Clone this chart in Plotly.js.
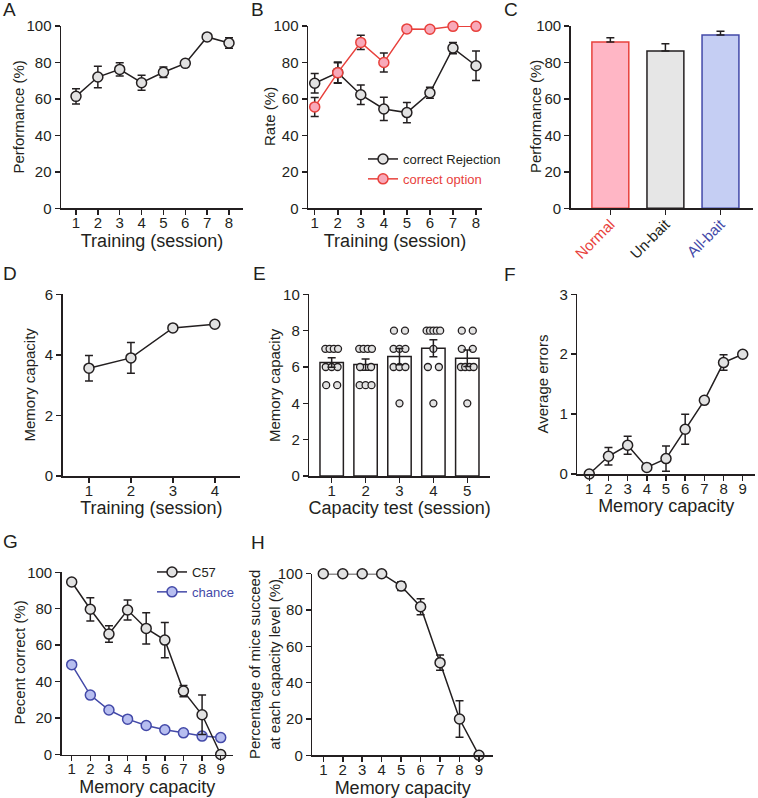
<!DOCTYPE html>
<html><head><meta charset="utf-8">
<script src="https://cdn.plot.ly/plotly-3.0.1.min.js"></script>
<style>html,body{margin:0;padding:0;background:#fff}#chart{width:758px;height:798px}</style>
</head><body><div id="chart"></div>
<script>
// ---------------- DATA ----------------
// A
const sessionsA = [1, 2, 3, 4, 5, 6, 7, 8];
const performanceA = [61.4, 72.0, 76.2, 68.9, 74.6, 79.5, 94.0, 90.7];
const performanceA_sem = [4.2, 5.9, 3.6, 4.1, 2.9, 0.8, 0.8, 2.9];
// B
const sessionsB = [1, 2, 3, 4, 5, 6, 7, 8];
const rejectionB = [68.6, 74.4, 62.3, 54.5, 52.5, 63.4, 87.9, 78.2];
const rejectionB_sem = [5.3, 5.8, 5.4, 6.4, 5.6, 3.0, 3.1, 8.1];
const optionB = [55.6, 74.4, 91.0, 80.0, 98.4, 98.2, 99.8, 99.8];
const optionB_sem = [5.2, 5.5, 3.9, 5.2, 0, 0, 0, 0];
// C
const conditionsC = ['Normal', 'Un-bait', 'All-bait'];
const performanceC = [91.2, 86.3, 95.1];
const performanceC_sem = [2.4, 4.0, 2.0];
// D
const sessionsD = [1, 2, 3, 4];
const capacityD = [3.56, 3.90, 4.89, 5.01];
const capacityD_sem = [0.42, 0.51, 0.03, 0.02];
// E
const sessionsE = [1, 2, 3, 4, 5];
const capacityE_mean = [6.25, 6.13, 6.57, 7.03, 6.48];
const capacityE_sem = [0.26, 0.31, 0.45, 0.47, 0.45];
const capacityE_s1 = [7, 7, 7, 7, 6, 6, 6, 5, 5];
const capacityE_s2 = [7, 7, 7, 7, 6, 6, 5, 5, 5];
const capacityE_s3 = [8, 8, 7, 7, 7, 6, 6, 6, 4];
const capacityE_s4 = [8, 8, 8, 8, 8, 7, 6, 6, 4];
const capacityE_s5 = [8, 8, 7, 7, 6, 6, 6, 6, 4];
// F
const capacityF = [1, 2, 3, 4, 5, 6, 7, 8, 9];
const errorsF = [0, 0.296, 0.48, 0.11, 0.257, 0.747, 1.23, 1.86, 2.0];
const errorsF_sem = [0, 0.145, 0.15, 0, 0.21, 0.25, 0, 0.13, 0];
// G
const capacityG = [1, 2, 3, 4, 5, 6, 7, 8, 9];
const c57G = [94.7, 79.7, 66.1, 79.3, 69.2, 62.8, 34.8, 21.8, 0];
const c57G_sem = [0, 6.4, 4.5, 5.5, 8.6, 9.7, 3.1, 10.8, 0];
const chanceG = [49.3, 32.6, 24.4, 19.4, 15.9, 13.6, 11.9, 10.1, 9.3];
// H
const capacityH = [1, 2, 3, 4, 5, 6, 7, 8, 9];
const succeedH = [100, 100, 100, 100, 93.2, 81.8, 51.0, 20.0, 0];
const succeedH_sem = [0, 0, 0, 0, 2.4, 4.4, 4.2, 10.1, 0];

// ---------------- STYLE ----------------
const INK = '#231F20';
const GRAYFILL = '#E2E2E2';
const RED = '#E8413C', PINK = '#F8A9B9';
const BLUE = '#4349A8', LAV = '#B7BEF0';
const FONT = 'Liberation Sans, Arial, Helvetica, sans-serif';
const W = 758, H = 798;
const LW = 1.5;

function px(x0, x1) { return [x0 / W, x1 / W]; }
function py(top, bottom) { return [1 - bottom / H, 1 - top / H]; }

function axis(extra) {
  return Object.assign({
    showgrid: false, zeroline: false, showline: true, linecolor: INK, linewidth: LW,
    ticks: 'outside', ticklen: 5, tickwidth: LW, tickcolor: INK,
    tickfont: { family: FONT, size: 15, color: INK }, fixedrange: true
  }, extra);
}
function xaxisOf(extra) { return axis(Object.assign({ ticklabelstandoff: -5 }, extra)); }
function xtitle(t) { return { text: t, font: { family: FONT, size: 18, color: INK }, standoff: 2 }; }

function errBars(arr, minus) {
  const e = { type: 'data', array: arr, visible: true, color: INK, thickness: LW, width: 4 };
  if (minus) { e.symmetric = false; e.arrayminus = minus; }
  return e;
}
function lineTrace(x, y, sem, xa, ya, opts) {
  opts = opts || {};
  return {
    type: 'scatter', mode: 'lines+markers', x: x, y: y, xaxis: xa, yaxis: ya,
    line: { color: opts.line || INK, width: LW },
    marker: { size: 10, color: opts.fill || GRAYFILL, line: { color: opts.line || INK, width: LW } },
    error_y: sem ? errBars(sem) : undefined,
    cliponaxis: false, showlegend: !!opts.name, name: opts.name, legend: opts.legend,
    hoverinfo: 'skip'
  };
}

// beeswarm-ish horizontal offsets for the individual dots of panel E
const sessionDots = [capacityE_s1, capacityE_s2, capacityE_s3, capacityE_s4, capacityE_s5];
const dotX = [], dotY = [];
sessionDots.forEach((vals, si) => {
  const groups = {};
  vals.forEach(v => { (groups[v] = groups[v] || []).push(v); });
  Object.keys(groups).forEach(k => {
    const n = groups[k].length;
    const span = n > 1 ? 0.30 + 0.025 * (n - 1) : 0;
    groups[k].forEach((v, i) => {
      dotX.push(sessionsE[si] + (n > 1 ? (i / (n - 1) - 0.5) * span : 0));
      dotY.push(v);
    });
  });
});

const data = [
  // A
  lineTrace(sessionsA, performanceA, performanceA_sem, 'x', 'y'),
  // B
  lineTrace(sessionsB, rejectionB, rejectionB_sem, 'x2', 'y2', { name: 'correct Rejection', legend: 'legend' }),
  lineTrace(sessionsB, optionB, optionB_sem, 'x2', 'y2', {
    name: '<span style="color:' + RED + '">correct option</span>', legend: 'legend', line: RED, fill: PINK
  }),
  // C
  {
    type: 'bar', x: [0, 1, 2], y: performanceC, xaxis: 'x3', yaxis: 'y3', width: 0.67,
    marker: { color: ['#FFB6C5', '#E6E6E6', '#C5CEF3'], line: { color: [RED, INK, BLUE], width: 1.5 } },
    error_y: errBars(performanceC_sem, [0, 0, 0]), showlegend: false, hoverinfo: 'skip'
  },
  // D
  lineTrace(sessionsD, capacityD, capacityD_sem, 'x4', 'y4'),
  // E bars
  {
    type: 'bar', x: sessionsE, y: capacityE_mean, xaxis: 'x5', yaxis: 'y5', width: 0.69,
    marker: { color: '#FFFFFF', line: { color: INK, width: LW } }, showlegend: false, hoverinfo: 'skip'
  },
  {
    type: 'scatter', mode: 'markers', x: dotX, y: dotY, xaxis: 'x5', yaxis: 'y5',
    marker: { size: 7, color: GRAYFILL, line: { color: INK, width: 1.3 } },
    cliponaxis: false, showlegend: false, hoverinfo: 'skip'
  },
  {
    type: 'scatter', mode: 'markers', x: sessionsE, y: capacityE_mean, xaxis: 'x5', yaxis: 'y5',
    marker: { size: 2, opacity: 0 }, error_y: errBars(capacityE_sem), showlegend: false, hoverinfo: 'skip'
  },
  // F
  lineTrace(capacityF, errorsF, errorsF_sem, 'x6', 'y6'),
  // G (chance drawn first so C57 sits on top)
  lineTrace(capacityG, chanceG, null, 'x7', 'y7', {
    name: '<span style="color:' + BLUE + '">chance</span>', legend: 'legend2', line: BLUE, fill: LAV
  }),
  lineTrace(capacityG, c57G, c57G_sem, 'x7', 'y7', { name: 'C57', legend: 'legend2' }),
  // H
  lineTrace(capacityH, succeedH, succeedH_sem, 'x8', 'y8')
];

const rowA = py(26, 208.3), rowD = py(294.3, 476), rowF = py(294.3, 474), rowG = py(572.3, 754.5), rowH = py(573.7, 755.3);

// y-axis titles: [text, centre x px, centre y px]
const yTitles = [
  ['Performance (%)', 18.5, 117],
  ['Rate (%)', 270, 117],
  ['Performance (%)', 536, 117],
  ['Memory capacity', 29.5, 385],
  ['Memory capacity', 275, 385],
  ['Average errors', 541.5, 384],
  ['Pecent correct (%)', 18.5, 663],
  ['Percentage of mice succeed<br>at each capacity level (%)', 264.5, 664.5]
];
const panelLetters = [
  ['A', 1, -3], ['B', 249, -3], ['C', 502, -3],
  ['D', 1, 261], ['E', 251, 261], ['F', 502, 262],
  ['G', 1, 529], ['H', 249, 530]
];

const layout = {
  width: W, height: H, margin: { l: 0, r: 0, t: 0, b: 0 },
  paper_bgcolor: '#FFFFFF', plot_bgcolor: 'rgba(0,0,0,0)',
  font: { family: FONT, color: INK, size: 15 },
  showlegend: true,
  legend: {
    x: 363 / W, y: 1 - 144 / H, xanchor: 'left', yanchor: 'top', bgcolor: 'rgba(0,0,0,0)',
    font: { family: FONT, size: 13, color: INK }, itemwidth: 30, traceorder: 'normal'
  },
  legend2: {
    x: 152 / W, y: 1 - 557 / H, xanchor: 'left', yanchor: 'top', bgcolor: 'rgba(0,0,0,0)',
    font: { family: FONT, size: 13, color: INK }, itemwidth: 30, traceorder: 'reversed'
  },
  // A
  xaxis: xaxisOf({ domain: px(61, 243), range: [0.314, 8.64], anchor: 'y', tickvals: sessionsA, title: xtitle('Training (session)') }),
  yaxis: axis({ domain: rowA, range: [0, 100], anchor: 'x', dtick: 20 }),
  // B
  xaxis2: xaxisOf({ domain: px(308, 482), range: [0.709, 8.26], anchor: 'y2', tickvals: sessionsB, title: xtitle('Training (session)') }),
  yaxis2: axis({ domain: rowA, range: [0, 100], anchor: 'x2', dtick: 20 }),
  // C
  xaxis3: xaxisOf({
    domain: px(570.7, 752.7), range: [-0.72, 2.585], anchor: 'y3', tickvals: [0, 1, 2], tickangle: -45,
    ticktext: [
      '<span style="color:' + RED + '">' + conditionsC[0] + '</span>',
      '<span style="color:' + INK + '">' + conditionsC[1] + '</span>',
      '<span style="color:' + BLUE + '">' + conditionsC[2] + '</span>'
    ]
  }),
  yaxis3: axis({ domain: rowA, range: [0, 100], anchor: 'x3', dtick: 20 }),
  // D
  xaxis4: xaxisOf({ domain: px(62.7, 240), range: [0.374, 4.6], anchor: 'y4', tickvals: sessionsD, title: xtitle('Training (session)') }),
  yaxis4: axis({ domain: rowD, range: [0, 6], anchor: 'x4', dtick: 2 }),
  // E
  xaxis5: xaxisOf({ domain: px(309.3, 490), range: [0.34, 5.67], anchor: 'y5', tickvals: sessionsE, title: xtitle('Capacity test (session)') }),
  yaxis5: axis({ domain: rowD, range: [0, 10], anchor: 'x5', dtick: 2 }),
  // F
  xaxis6: xaxisOf({ domain: px(577.3, 755), range: [0.375, 9.64], anchor: 'y6', tickvals: capacityF, title: xtitle('Memory capacity') }),
  yaxis6: axis({ domain: rowF, range: [0, 3], anchor: 'x6', dtick: 1 }),
  // G
  xaxis7: xaxisOf({ domain: px(61.7, 233), range: [0.463, 9.66], anchor: 'y7', tickvals: capacityG, title: xtitle('Memory capacity') }),
  yaxis7: axis({ domain: rowG, range: [0, 100], anchor: 'x7', dtick: 20 }),
  // H
  xaxis8: xaxisOf({ domain: px(312.3, 493), range: [0.435, 9.72], anchor: 'y8', tickvals: capacityH, title: xtitle('Memory capacity') }),
  yaxis8: axis({ domain: rowH, range: [0, 100], anchor: 'x8', dtick: 20 }),
  annotations: panelLetters.map(a => ({
    text: a[0], xref: 'paper', yref: 'paper', x: a[1] / W, y: 1 - a[2] / H,
    xanchor: 'left', yanchor: 'top', showarrow: false,
    font: { family: FONT, size: 19, color: INK }
  })).concat(yTitles.map(t => ({
    text: t[0], xref: 'paper', yref: 'paper', x: t[1] / W, y: 1 - t[2] / H,
    xanchor: 'center', yanchor: 'middle', textangle: -90, showarrow: false,
    font: { family: FONT, size: 15, color: INK }
  })))
};

Plotly.newPlot('chart', data, layout, { staticPlot: true, displayModeBar: false });
</script>
</body></html>
